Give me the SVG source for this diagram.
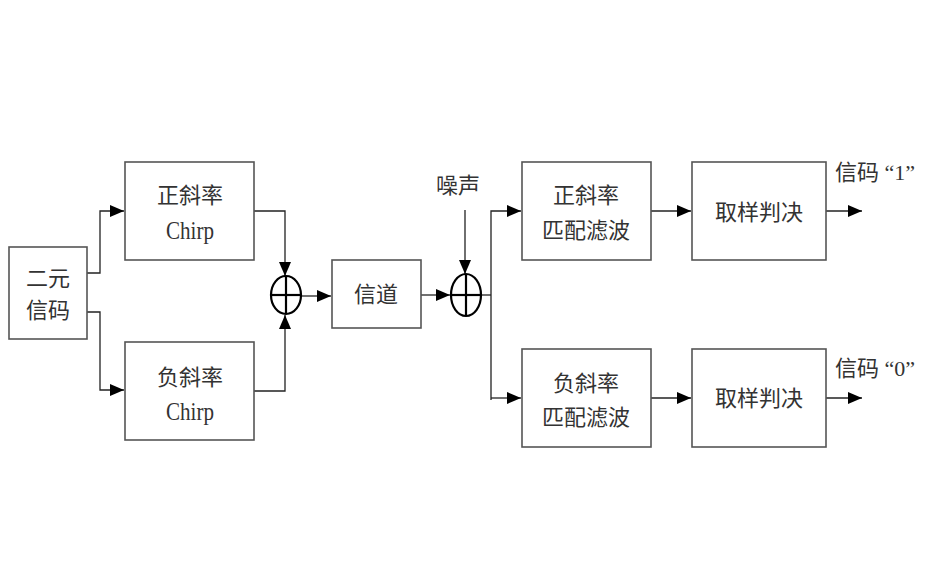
<svg xmlns="http://www.w3.org/2000/svg" width="930" height="568" viewBox="0 0 930 568">
<style>
.box{fill:#fff;stroke:#555;stroke-width:1.6}
.ln{fill:none;stroke:#222;stroke-width:1.3}
.sum{fill:#fff;stroke:#000;stroke-width:2.2}
.plus{stroke:#000;stroke-width:2.2}
text{font-family:"Liberation Serif","Noto Sans CJK SC",serif;font-size:22px;fill:#333;text-anchor:middle}
.en{font-size:25px}
</style>
<defs>
<marker id="ah" viewBox="0 0 14 12" refX="14" refY="6" markerWidth="14" markerHeight="12" markerUnits="userSpaceOnUse" orient="auto">
<path d="M0,0 L14,6 L0,12 Z" fill="#000"/>
</marker>
</defs>
<rect width="930" height="568" fill="#fff"/>
<g id="connectors">
<polyline class="ln" points="87,273 100,273 100,211 124,211" marker-end="url(#ah)"/>
<polyline class="ln" points="87,312 100,312 100,390 124,390" marker-end="url(#ah)"/>
<polyline class="ln" points="254,211 285,211 285,276" marker-end="url(#ah)"/>
<polyline class="ln" points="254,391 285,391 285,315" marker-end="url(#ah)"/>
<line class="ln" x1="301" y1="296" x2="331" y2="296" marker-end="url(#ah)"/>
<line class="ln" x1="421" y1="295" x2="450" y2="295" marker-end="url(#ah)"/>
<line class="ln" x1="465" y1="210" x2="465" y2="274" marker-end="url(#ah)"/>
<polyline class="ln" points="481,295 491,295"/>
<polyline class="ln" points="491,400 491,211 521,211" marker-end="url(#ah)"/>
<polyline class="ln" points="491,398 521,398" marker-end="url(#ah)"/>
<line class="ln" x1="651" y1="211" x2="691" y2="211" marker-end="url(#ah)"/>
<line class="ln" x1="651" y1="398" x2="691" y2="398" marker-end="url(#ah)"/>
<line class="ln" x1="826" y1="211" x2="862" y2="211" marker-end="url(#ah)"/>
<line class="ln" x1="826" y1="398" x2="862" y2="398" marker-end="url(#ah)"/>
</g>
<g id="binary">
<rect class="box" x="9" y="247" width="78" height="92"/>
<text x="48" y="286">二元</text>
<text x="48" y="318">信码</text>
</g>
<g id="chirp-pos">
<rect class="box" x="125" y="162" width="129" height="98"/>
<text x="190" y="203">正斜率</text>
<text class="en" x="190" y="239" textLength="48" lengthAdjust="spacingAndGlyphs">Chirp</text>
</g>
<g id="chirp-neg">
<rect class="box" x="125" y="342" width="129" height="98"/>
<text x="190" y="385">负斜率</text>
<text class="en" x="190" y="420" textLength="48" lengthAdjust="spacingAndGlyphs">Chirp</text>
</g>
<g id="sum1">
<ellipse class="sum" cx="286" cy="295" rx="15" ry="19"/>
<line class="plus" x1="271" y1="295" x2="301" y2="295"/>
<line class="plus" x1="286" y1="276" x2="286" y2="314"/>
</g>
<g id="channel">
<rect class="box" x="332" y="260" width="89" height="68"/>
<text x="376" y="302">信道</text>
</g>
<g id="noise">
<text x="458" y="193">噪声</text>
</g>
<g id="sum2">
<ellipse class="sum" cx="466" cy="295" rx="15" ry="21"/>
<line class="plus" x1="451" y1="295" x2="481" y2="295"/>
<line class="plus" x1="466" y1="274" x2="466" y2="316"/>
</g>
<g id="mf-pos">
<rect class="box" x="522" y="162" width="129" height="98"/>
<text x="586" y="203">正斜率</text>
<text x="586" y="238">匹配滤波</text>
</g>
<g id="mf-neg">
<rect class="box" x="522" y="349" width="129" height="98"/>
<text x="586" y="391">负斜率</text>
<text x="586" y="425">匹配滤波</text>
</g>
<g id="dec-1">
<rect class="box" x="692" y="162" width="134" height="98"/>
<text x="759" y="220">取样判决</text>
</g>
<g id="dec-0">
<rect class="box" x="692" y="349" width="134" height="98"/>
<text x="759" y="406">取样判决</text>
</g>
<g id="out-1">
<text x="835" y="180" style="text-anchor:start">信码 “1”</text>
</g>
<g id="out-0">
<text x="835" y="376" style="text-anchor:start">信码 “0”</text>
</g>
</svg>
